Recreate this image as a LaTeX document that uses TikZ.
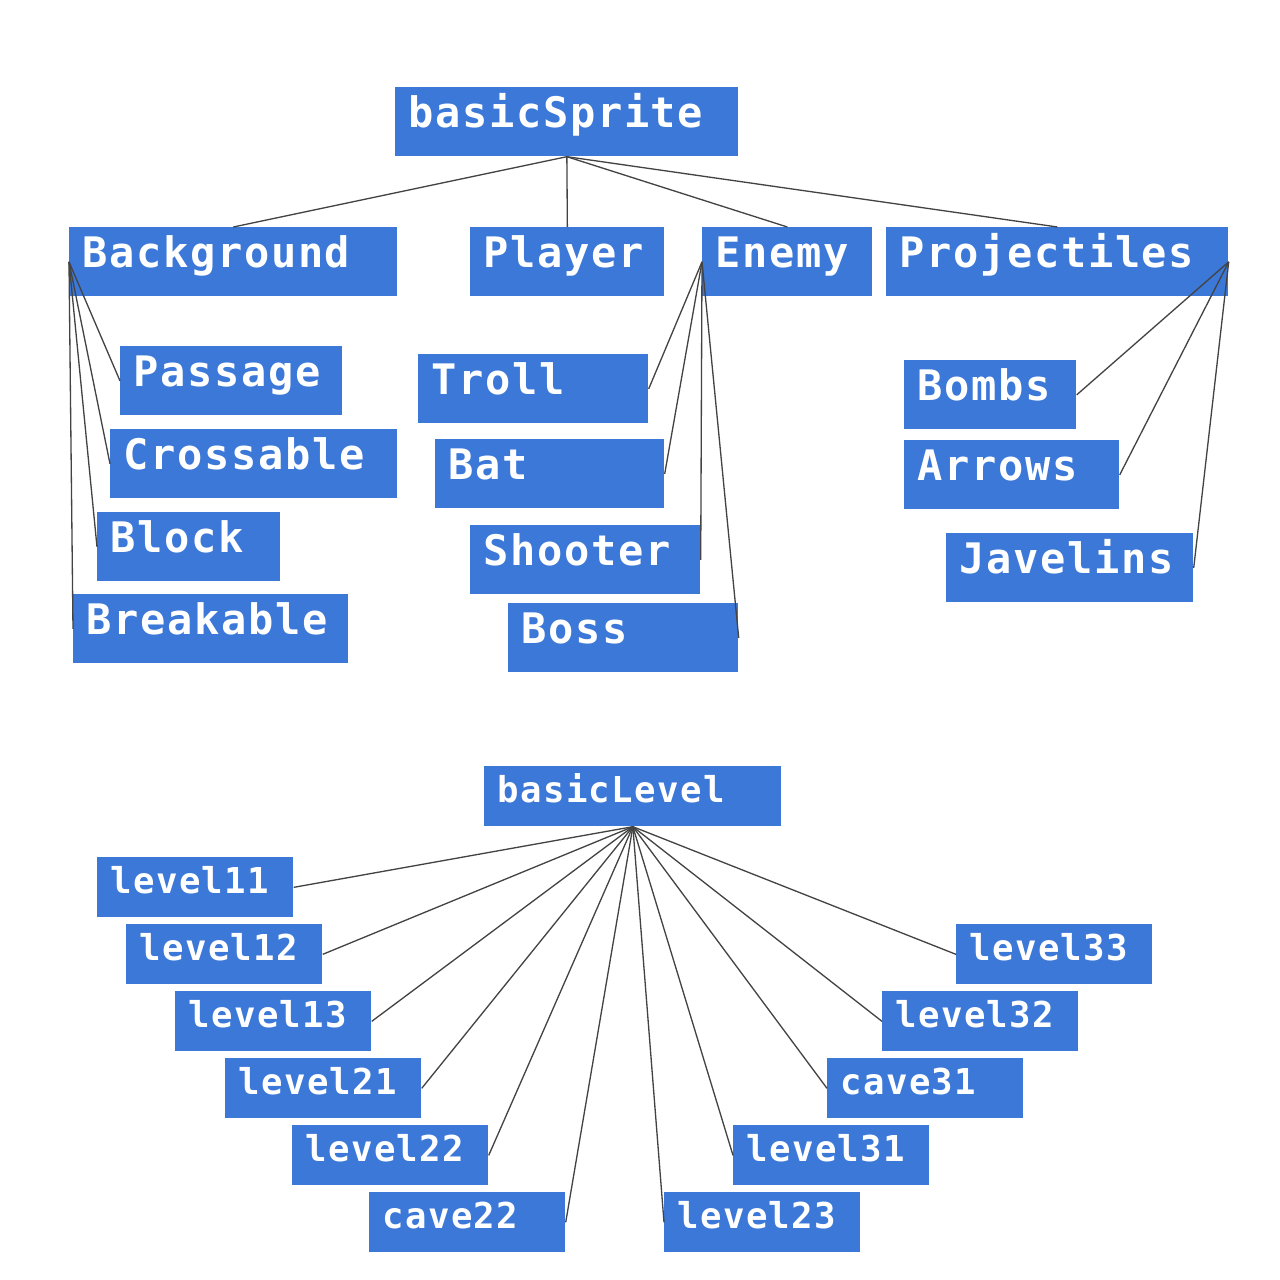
\documentclass[tikz,border=0pt]{standalone}
\usepackage{fontspec}
\usepackage{xcolor}
\usepackage{tikz}
\usetikzlibrary{positioning}

\newfontfamily\pixfont{DejaVu Sans Mono}[LetterSpace=4]
\definecolor{boxblue}{HTML}{3C78D8}
\definecolor{linkgray}{HTML}{434343}

\begin{document}
\begin{tikzpicture}[
  x=0.02cm, y=-0.02cm,
  cls/.style={fill=boxblue, text=white, anchor=north west, align=left,
              inner xsep=0.26cm, inner ysep=0pt},
  big/.style={cls, font=\pixfont\bfseries\fontsize{23.9pt}{24pt}\selectfont,
              text height=0.8cm, text depth=0.58cm},
  small/.style={cls, font=\pixfont\bfseries\fontsize{20.3pt}{21pt}\selectfont,
                text height=0.72cm, text depth=0.48cm},
  boxw/.style={text width=#1*0.02cm-0.52cm},
  link/.style={draw=linkgray, line width=0.75pt}
]
\useasboundingbox (0,0) rectangle (1280,1280);

% ---------- top: sprite classes ----------
\node[big, boxw=343] (sprite) at (395,87) {basicSprite};

\node[big, boxw=328] (bg)     at (69,227)  {Background};
\node[big, boxw=194] (player) at (470,227) {Player};
\node[big, boxw=170] (enemy)  at (702,227) {Enemy};
\node[big, boxw=342] (proj)   at (886,227) {Projectiles};

% background kinds
\node[big, boxw=222] (passage)   at (120,346) {Passage};
\node[big, boxw=287] (crossable) at (110,429) {Crossable};
\node[big, boxw=183] (block)     at (97,512)  {Block};
\node[big, boxw=275] (breakable) at (73,594)  {Breakable};

% enemy kinds
\node[big, boxw=230] (troll)   at (418,354) {Troll};
\node[big, boxw=229] (bat)     at (435,439) {Bat};
\node[big, boxw=230] (shooter) at (470,525) {Shooter};
\node[big, boxw=230] (boss)    at (508,603) {Boss};

% projectile kinds
\node[big, boxw=172] (bombs)    at (904,360) {Bombs};
\node[big, boxw=215] (arrows)   at (904,440) {Arrows};
\node[big, boxw=247] (javelins) at (946,533) {Javelins};

\draw[link] (sprite.south) -- (bg.north);
\draw[link] (sprite.south) -- (player.north);
\draw[link] (sprite.south) -- (enemy.north);
\draw[link] (sprite.south) -- (proj.north);

\draw[link] (bg.west) -- (passage.west);
\draw[link] (bg.west) -- (crossable.west);
\draw[link] (bg.west) -- (block.west);
\draw[link] (bg.west) -- (breakable.west);

\draw[link] (enemy.west) -- (troll.east);
\draw[link] (enemy.west) -- (bat.east);
\draw[link] (enemy.west) -- (shooter.east);
\draw[link] (enemy.west) -- (boss.east);

\draw[link] (proj.east) -- (bombs.east);
\draw[link] (proj.east) -- (arrows.east);
\draw[link] (proj.east) -- (javelins.east);

% ---------- bottom: levels ----------
\node[small, boxw=297] (level) at (484,766) {basicLevel};

\node[small, boxw=196] (l11)    at (97,857)   {level11};
\node[small, boxw=196] (l12)    at (126,924)  {level12};
\node[small, boxw=196] (l13)    at (175,991)  {level13};
\node[small, boxw=196] (l21)    at (225,1058) {level21};
\node[small, boxw=196] (l22)    at (292,1125) {level22};
\node[small, boxw=196] (cave22) at (369,1192) {cave22};

\node[small, boxw=196] (l23)    at (664,1192) {level23};
\node[small, boxw=196] (l31)    at (733,1125) {level31};
\node[small, boxw=196] (cave31) at (827,1058) {cave31};
\node[small, boxw=196] (l32)    at (882,991)  {level32};
\node[small, boxw=196] (l33)    at (956,924)  {level33};

\draw[link] (level.south) -- (l11.east);
\draw[link] (level.south) -- (l12.east);
\draw[link] (level.south) -- (l13.east);
\draw[link] (level.south) -- (l21.east);
\draw[link] (level.south) -- (l22.east);
\draw[link] (level.south) -- (cave22.east);

\draw[link] (level.south) -- (l23.west);
\draw[link] (level.south) -- (l31.west);
\draw[link] (level.south) -- (cave31.west);
\draw[link] (level.south) -- (l32.west);
\draw[link] (level.south) -- (l33.west);

\end{tikzpicture}
\end{document}
